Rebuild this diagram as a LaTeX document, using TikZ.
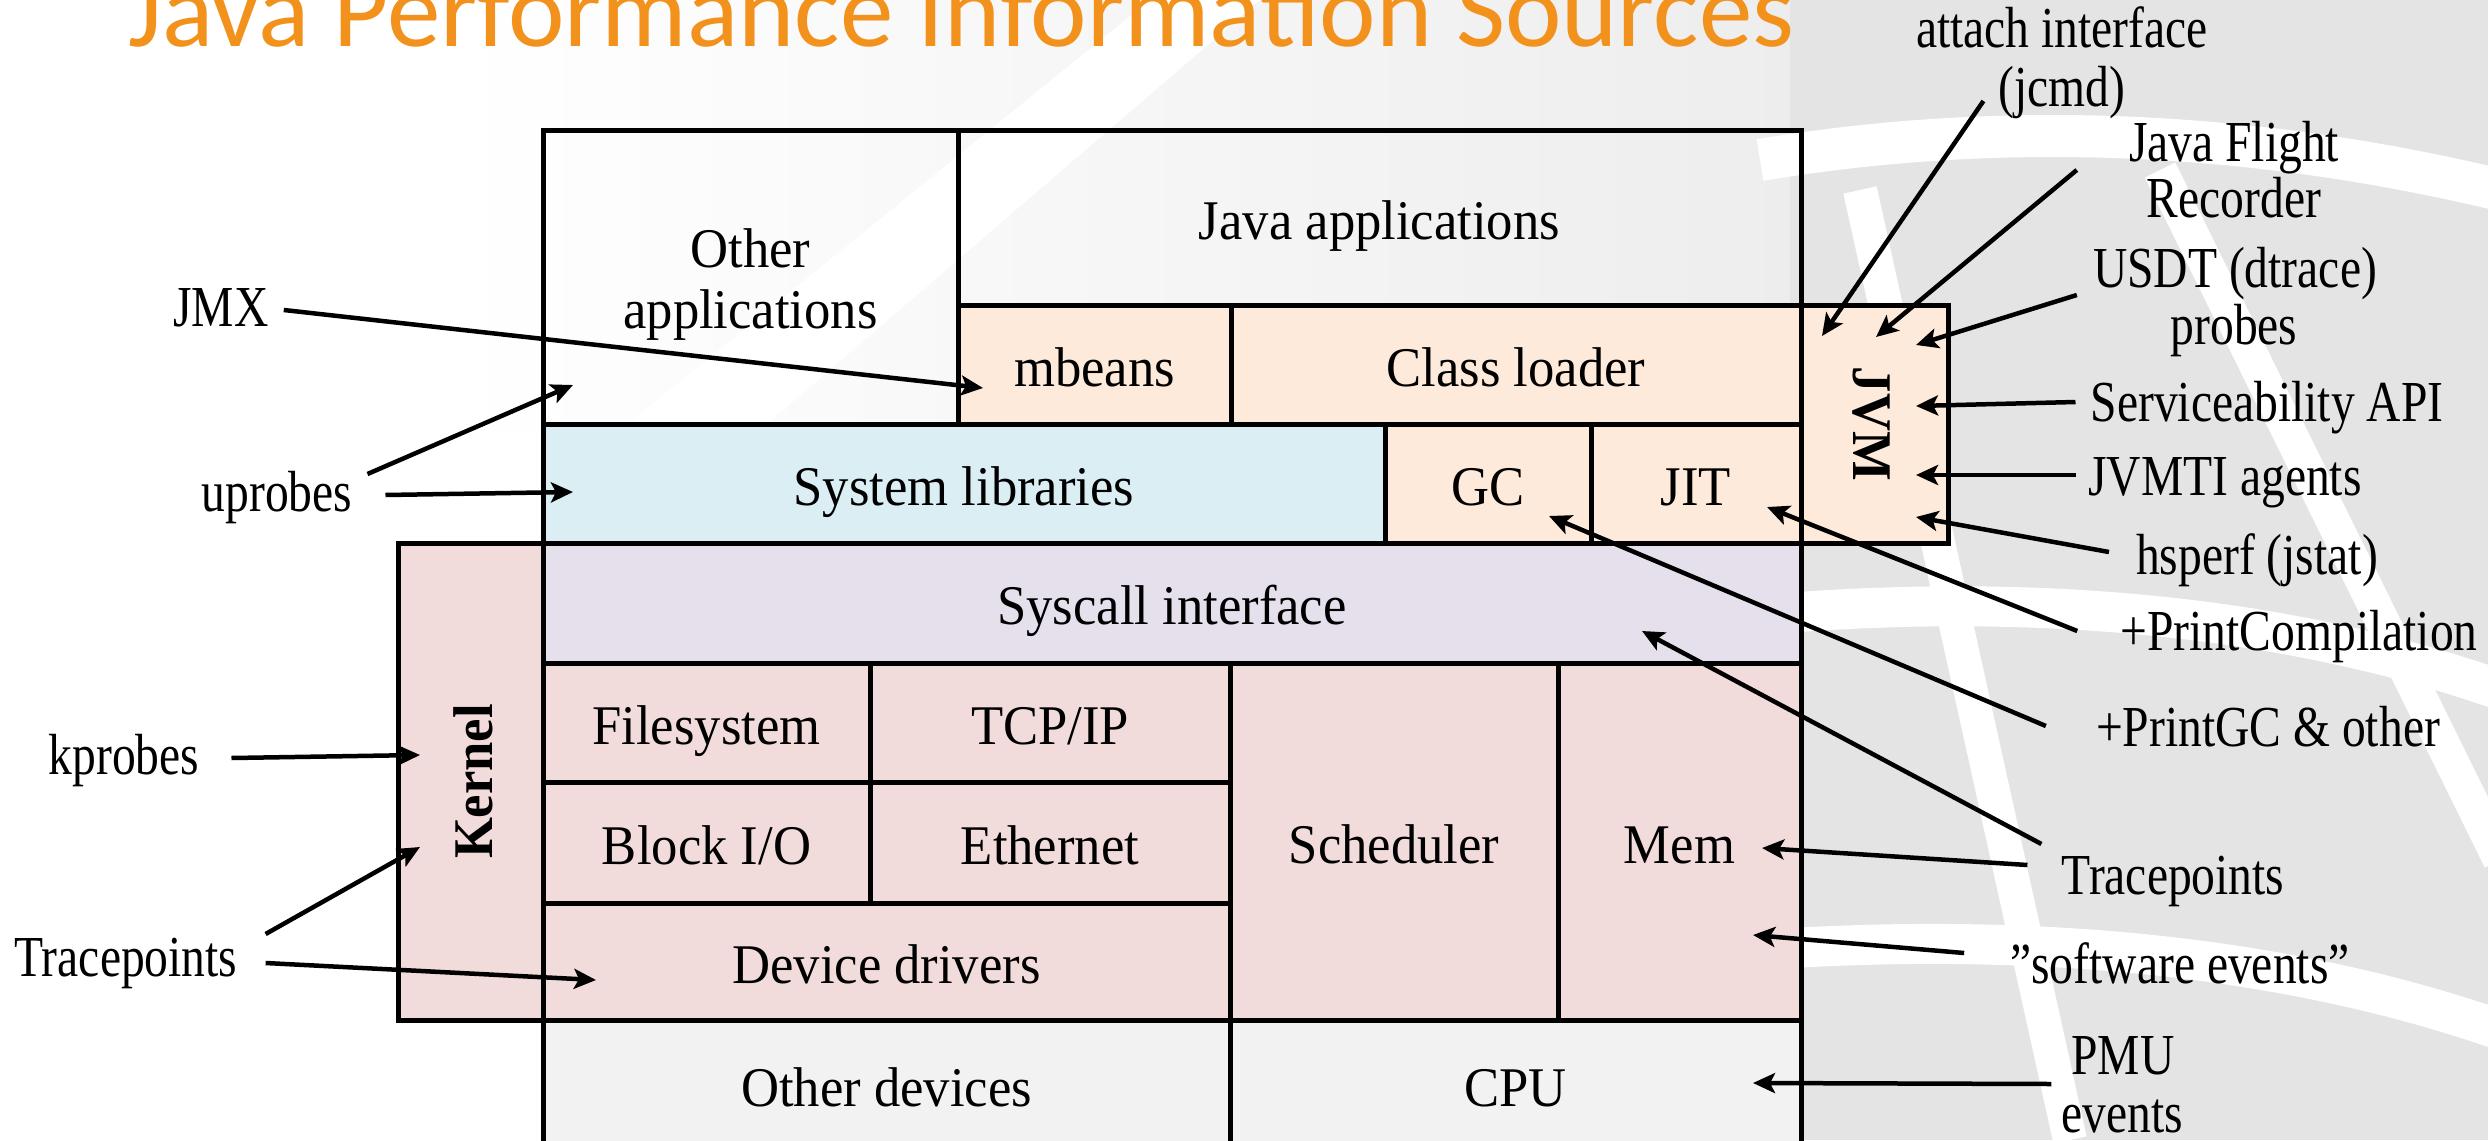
\documentclass[tikz,border=0pt]{standalone}
\usepackage{fontspec}
\setmainfont{Liberation Serif}[FakeStretch=0.94]
\newfontfamily\probefont{Liberation Serif}[FakeStretch=0.82]
\newfontfamily\titlefont{Carlito}
\usepackage{xcolor}
\usepackage{tikz}
\usetikzlibrary{positioning}
\usetikzlibrary{calc,arrows.meta}

\definecolor{jvmfill}{RGB}{253,234,218}
\definecolor{libfill}{RGB}{218,238,243}
\definecolor{sysfill}{RGB}{229,224,236}
\definecolor{kernfill}{RGB}{242,220,219}
\definecolor{devfill}{RGB}{242,242,242}
\definecolor{titleorange}{RGB}{242,146,29}
\definecolor{swoosh}{RGB}{228,228,228}

\tikzset{
  layer/.style={draw, line width=5pt, inner sep=0pt, align=center,
    font=\fontsize{56}{61}\selectfont, text height=56pt, text depth=13pt},
  probe/.style={inner sep=0pt, font=\probefont\fontsize{58}{57}\selectfont,
    text height=42pt, text depth=14pt},
  feed/.style={line width=4.5pt, -{Stealth[length=22pt,width=20pt,inset=5pt]}},
}

\begin{document}
\begin{tikzpicture}[x=1pt,y=1pt,yscale=-1,xscale=1]
\useasboundingbox (0,0) rectangle (2488,1140);

%Background swooshes
\shade[left color=white, right color=black!7] (450,0) rectangle (1790,430);
\fill[white] (620,430) -- (1150,0) -- (1260,0) -- (760,430) -- cycle;
\fill[swoosh] (1790,0) rectangle (2488,1140);
\draw[white, line width=42pt] (1760,160) .. controls (2000,120) and (2250,130) .. (2500,190);
\draw[white, line width=40pt] (1760,615) .. controls (2050,590) and (2300,620) .. (2500,690);
\draw[white, line width=40pt] (1760,950) .. controls (2050,930) and (2300,960) .. (2500,1030);
\draw[white, line width=34pt] (1860,190) -- (2070,1140);
\draw[white, line width=34pt] (2160,170) -- (2500,860);

%Shape: Rectangle -- user space
\node[layer, minimum width=415, minimum height=294, text height=115pt] (otherapps) at (750.5,277) {Other\\applications};
\node[layer, minimum width=843, minimum height=175] (javaapps) at (1379.5,217.5) {Java applications};
\node[layer, fill=jvmfill, minimum width=273, minimum height=119] (mbeans) at (1094.5,364.5) {mbeans};
\node[layer, fill=jvmfill, minimum width=570, minimum height=119] (classloader) at (1516,364.5) {Class loader};
\node[layer, fill=jvmfill, minimum width=238, minimum height=147, rotate=-90] (jvm) at (1874.5,424) {\bfseries JVM};
\node[layer, fill=libfill, minimum width=842, minimum height=119] (syslibs) at (964,483.5) {System libraries};
\node[layer, fill=jvmfill, minimum width=206, minimum height=119] (gc) at (1488,483.5) {GC};
\node[layer, fill=jvmfill, minimum width=210, minimum height=119] (jit) at (1696,483.5) {JIT};

%Shape: Rectangle -- kernel
\node[layer, fill=kernfill, minimum width=477, minimum height=145, rotate=90] (kernel) at (470.5,781.5) {\bfseries Kernel};
\node[layer, fill=sysfill, minimum width=1258, minimum height=120] (syscall) at (1172,603) {Syscall interface};
\node[layer, fill=kernfill, minimum width=327, minimum height=119] (filesys) at (706.5,722.5) {Filesystem};
\node[layer, fill=kernfill, minimum width=360, minimum height=119] (tcpip) at (1050,722.5) {TCP/IP};
\node[layer, fill=kernfill, minimum width=327, minimum height=121] (blockio) at (706.5,842.5) {Block I/O};
\node[layer, fill=kernfill, minimum width=360, minimum height=121] (ethernet) at (1050,842.5) {Ethernet};
\node[layer, fill=kernfill, minimum width=687, minimum height=117] (drivers) at (886.5,961.5) {Device drivers};
\node[layer, fill=kernfill, minimum width=328, minimum height=357] (sched) at (1394,841.5) {Scheduler};
\node[layer, fill=kernfill, minimum width=243, minimum height=357] (mem) at (1679.5,841.5) {Mem};

%Shape: Rectangle -- hardware
\node[layer, fill=devfill, minimum width=687, minimum height=130] (otherdev) at (886.5,1085) {Other devices};
\node[layer, fill=devfill, minimum width=571, minimum height=130] (cpu) at (1515.5,1085) {CPU};

% Text Node
\node[anchor=base west, inner sep=0pt, text=titleorange, font=\titlefont\fontsize{107}{120}\selectfont] (title) at (128,47) {Java Performance Information Sources};

% Text Node
\node[probe] (jmx) at (221,312) {JMX};
\node[probe] (uprobes) at (277,497) {uprobes};
\node[probe] (kprobes) at (124,760) {kprobes};
\node[probe] (tpleft) at (126,962) {Tracepoints};
% Text Node
\node[probe] (attach) at (2062,34) {attach interface};
\node[probe] (jcmd) at (2062,92) {(jcmd)};
\node[probe] (flight) at (2234,147) {Java Flight};
\node[probe] (recorder) at (2234,203) {Recorder};
\node[probe] (usdt) at (2235,273) {USDT (dtrace)};
\node[probe] (usdtprobes) at (2234,330) {probes};
\node[probe] (svcapi) at (2267,407) {Serviceability API};
\node[probe] (jvmti) at (2225,481) {JVMTI agents};
\node[probe] (hsperf) at (2257,560) {hsperf (jstat)};
\node[probe] (printcomp) at (2299,636) {+PrintCompilation};
\node[probe] (printgc) at (2268,732) {+PrintGC \& other};
\node[probe] (tpright) at (2173,880) {Tracepoints};
\node[probe] (swevents) at (2180,969) {”software events”};
\node[probe] (pmu) at (2123,1060) {PMU};
\node[probe] (pmuevents) at (2122,1118) {events};

%Arrow tips
\coordinate (jmxtip) at (983,388);
\coordinate (uptip1) at (573,385);
\coordinate (uptip2) at (573,492);
\coordinate (kptip) at (420,755);
\coordinate (tltip1) at (420,847);
\coordinate (tltip2) at (596,980);
\coordinate (attachtip) at (1822,336);
\coordinate (flighttip) at (1876,337);
\coordinate (usdttip) at (1916,345);
\coordinate (svctip) at (1916,406);
\coordinate (jvmtitip) at (1916,475);
\coordinate (hsperftip) at (1916,517);
\coordinate (comptip) at (1767,507);
\coordinate (gctip) at (1549,516);
\coordinate (trtip1) at (1642,631);
\coordinate (trtip2) at (1762,848);
\coordinate (swtip) at (1753,935);
\coordinate (pmutip) at (1753,1083);

%Straight Lines
\draw[feed] ($(jmx.east)+(15,-2)$) -- (jmxtip);
\draw[feed] ($(uprobes.east)+(15,-23)$) -- (uptip1);
\draw[feed] ($(uprobes.east)+(33,-2)$) -- (uptip2);
\draw[feed] ($(kprobes.east)+(32,-2)$) -- (kptip);
\draw[feed] ($(tpleft.east)+(28,-28)$) -- (tltip1);
\draw[feed] ($(tpleft.east)+(28,1)$) -- (tltip2);
\draw[feed] ($(jcmd.west)+(-15,9)$) -- (attachtip);
\draw[feed] ($(flight.west)+(-52,23)$) -- (flighttip);
\draw[feed] ($(usdt.west)+(-16,22)$) -- (usdttip);
\draw[feed] ($(svcapi.west)+(-15,-5)$) -- (svctip);
\draw[feed] ($(jvmti.west)+(-12,-6)$) -- (jvmtitip);
\draw[feed] ($(hsperf.west)+(-27,-8)$) -- (hsperftip);
\draw[feed] ($(printcomp.west)+(-43,-5)$) -- (comptip);
\draw[feed] ($(printgc.west)+(-50,-6)$) -- (gctip);
\draw[feed] ($(tpright.west)+(-20,-36)$) -- (trtip1);
\draw[feed] ($(tpright.west)+(-34,-15)$) -- (trtip2);
\draw[feed] ($(swevents.west)+(-46,-16)$) -- (swtip);
\draw[feed] ($(pmu.west)+(-20,24)$) -- (pmutip);

\end{tikzpicture}
\end{document}
